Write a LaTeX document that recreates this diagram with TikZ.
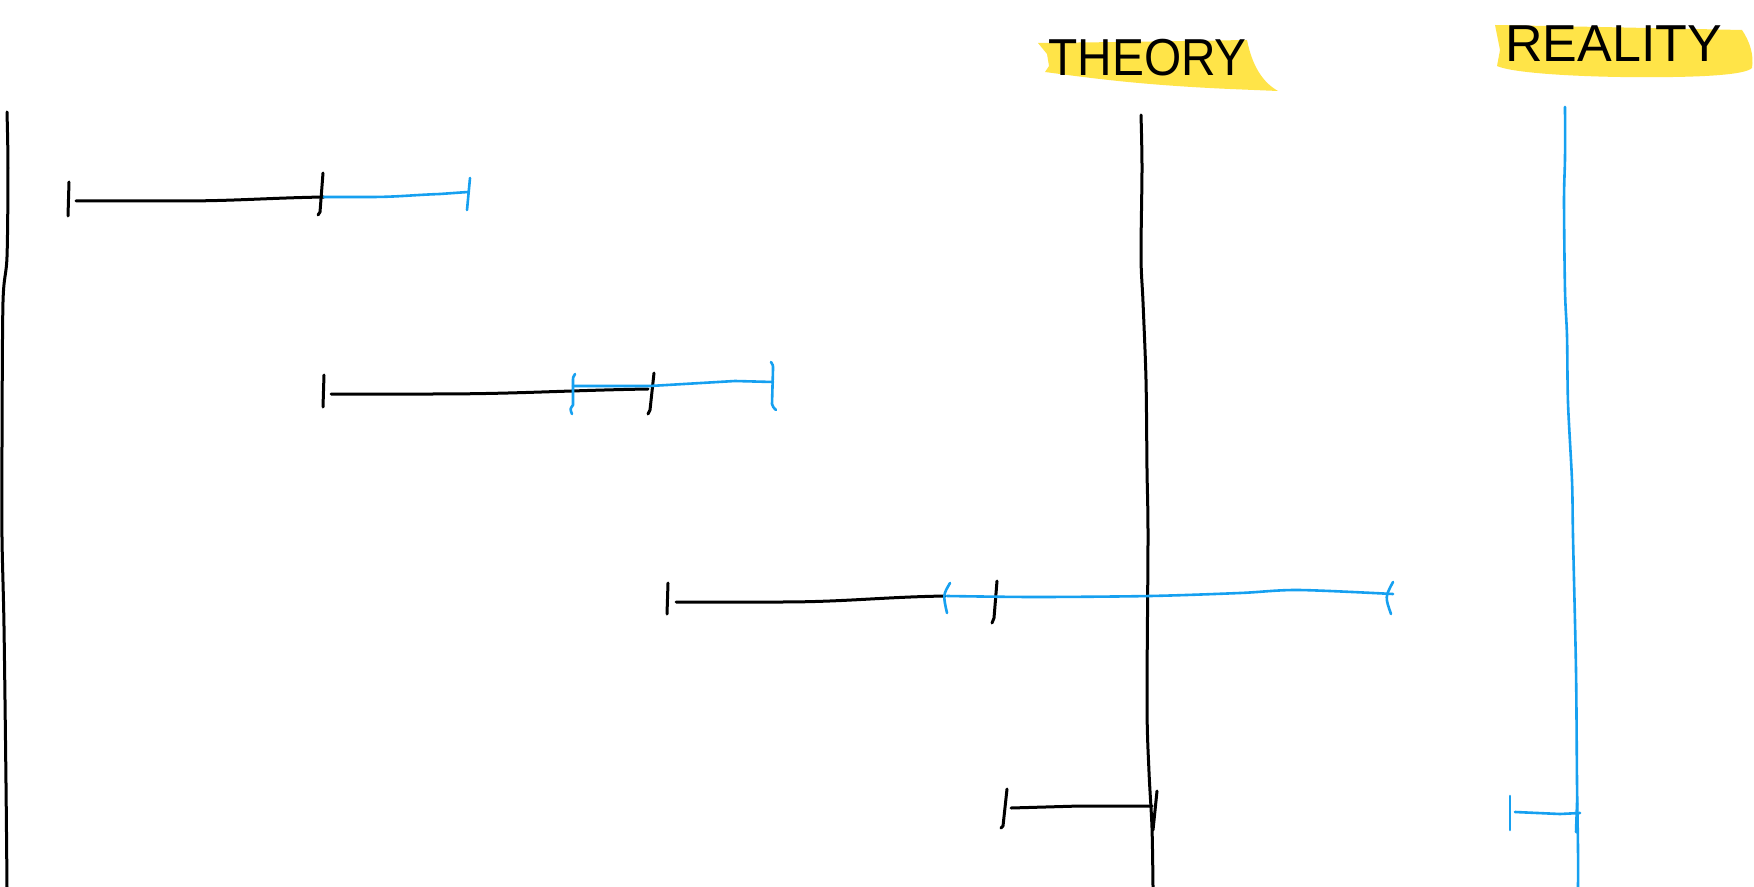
\documentclass[tikz,border=0pt]{standalone}
\usepackage{fontspec}
\newfontfamily\handfont{Liberation Sans}
\definecolor{inkblue}{RGB}{22,160,240}
\definecolor{hilite}{RGB}{255,228,72}
\tikzset{
  ink/.style={line width=1.5pt, line cap=round, line join=round, black},
  blueink/.style={line width=1.3pt, line cap=round, line join=round, inkblue},
  hl/.style={fill=hilite, draw=none},
  handlabel/.style={font=\handfont\fontsize{26}{26}\selectfont, inner sep=0pt, anchor=base west}
}
\begin{document}
\begin{tikzpicture}[x=0.5pt,y=-0.5pt]
\useasboundingbox[fill=white] (0,0) rectangle (1754,887);

% highlights
\fill[hl] (1038,43) -- (1120,42) -- (1247,40) .. controls (1252,65) and (1262,82) .. (1278,91)
  -- (1230,89) .. controls (1140,85) and (1090,78) .. (1045,72) -- (1049,66) -- (1047,54) -- cycle;
\fill[hl] (1495,25) -- (1600,27) -- (1742,30) .. controls (1750,42) and (1754,55) .. (1752,68)
  .. controls (1745,75) and (1700,78) .. (1620,77) .. controls (1560,76) and (1510,72) .. (1497,66)
  -- (1500,50) -- cycle;

% labels
\node[handlabel] (theory) at (1048,76) {\scalebox{0.92}[1]{THEORY}};
\node[handlabel] (reality) at (1505,62) {REALITY};

% left axis
\draw[ink] plot[smooth] coordinates {(7,112) (8,168) (7,257) (3,302) (2,447) (2,537) (4,626) (6,783) (7,887)};

% theory axis
\draw[ink] plot[smooth] coordinates {(1141,115) (1142,168) (1141,257) (1143,302) (1146,380) (1147,470) (1148,537) (1147,705) (1149,772) (1152,828) (1153,887)};

% reality axis
\draw[blueink] plot[smooth] coordinates {(1565,107) (1565,157) (1564,201) (1565,291) (1567,336) (1568,403) (1572,481) (1573,537) (1576,671) (1577,783) (1578,850) (1578,887)};

% bar 1
\coordinate (b1s) at (76,201);
\coordinate (b1m) at (324,197);
\coordinate (b1e) at (468,192);
\draw[ink] (69,182) -- (68,216);
\draw[ink] (b1s) -- (178,201) to[out=0,in=181] (b1m);
\draw[ink] (323,173) -- (320,212) -- (318,215);
\draw[blueink] (b1m) -- (370,197) to[out=0,in=182] (440,194) -- (b1e);
\draw[blueink] (470,178) -- (467,210);

% bar 2
\coordinate (b2s) at (331,394);
\coordinate (b2m) at (648,389);
\coordinate (b2bs) at (573,386);
\coordinate (b2be) at (773,382);
\draw[ink] (324,375) -- (323,407);
\draw[ink] (b2s) -- (432,394) to[out=0,in=181] (b2m);
\draw[ink] (654,373) -- (650,410) -- (648,414);
\draw[blueink] (575,374) .. controls (573,377) .. (573,382) -- (573,405) .. controls (570,409) .. (572,414);
\draw[blueink] (b2bs) -- (650,386) -- (735,381) -- (b2be);
\draw[blueink] (771,362) .. controls (773,365) .. (773,369) -- (772,404) .. controls (773,407) .. (776,410);

% bar 3
\coordinate (b3s) at (676,602);
\coordinate (b3m) at (945,596);
\coordinate (b3bs) at (947,596);
\coordinate (b3be) at (1393,594);
\draw[ink] (668,583) -- (667,614);
\draw[ink] (b3s) -- (780,602) to[out=0,in=181] (b3m);
\draw[blueink] (950,583) .. controls (943,595) .. (947,613);
\draw[ink] (997,581) -- (994,618) -- (992,623);
\draw[blueink] plot[smooth] coordinates {(b3bs) (1035,597) (1150,596) (1240,593) (1298,590) (b3be)};
\draw[blueink] (1393,582) .. controls (1385,597) .. (1391,614);

% bar 4
\coordinate (b4s) at (1011,808);
\coordinate (b4e) at (1152,806);
\draw[ink] (1007,789) -- (1003,826) -- (1001,828);
\draw[ink] (b4s) -- (1080,806) -- (b4e);
\draw[ink] (1157,791) -- (1153,830);

% bar 5
\coordinate (b5s) at (1515,812);
\coordinate (b5e) at (1580,813);
\draw[blueink] (1510,796) -- (1510,830);
\draw[blueink] (b5s) -- (1560,814) -- (b5e);
\draw[blueink] (1577,803) -- (1576,832);
\end{tikzpicture}
\end{document}
